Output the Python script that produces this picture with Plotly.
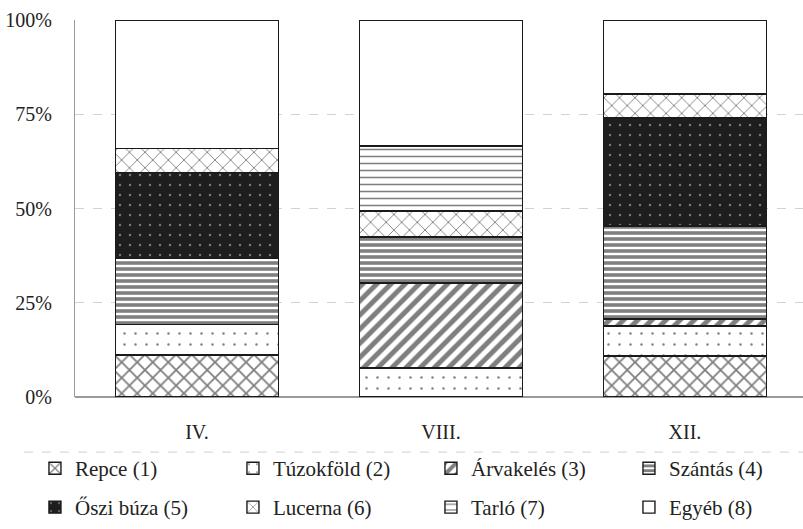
import plotly.graph_objects as go

# Months of observation
months = ["IV.", "VIII.", "XII."]

# Share of each land-use type (%), bottom to top of each stacked bar
repce = [11.1, 0.0, 10.9]
tuzokfold = [8.2, 7.7, 7.9]
arvakeles = [0.0, 22.5, 1.9]
szantas = [17.4, 12.2, 24.7]
oszi_buza = [22.8, 0.0, 28.6]
lucerna = [6.4, 6.9, 6.4]
tarlo = [0.0, 17.3, 0.0]
egyeb = [34.1, 33.4, 19.6]

series_names = ["Repce (1)", "Túzokföld (2)", "Árvakelés (3)", "Szántás (4)",
                "Őszi búza (5)", "Lucerna (6)", "Tarló (7)", "Egyéb (8)"]
series_values = [repce, tuzokfold, arvakeles, szantas,
                 oszi_buza, lucerna, tarlo, egyeb]

# Hatch style for each series
patterns = [
    dict(shape="x", size=11, solidity=0.3, fgcolor="#000", bgcolor="white"),
    dict(shape=".", size=11, solidity=0.04, fgcolor="#000", bgcolor="white"),
    dict(shape="/", size=10, solidity=0.5, fgcolor="#000", bgcolor="white"),
    dict(shape="-", size=6, solidity=0.6, fgcolor="#000", bgcolor="white"),
    dict(shape=".", size=10, solidity=0.05, fgcolor="#d0d0d0", bgcolor="#1e1e1e"),
    dict(shape="x", size=11, solidity=0.16, fgcolor="#000", bgcolor="white"),
    dict(shape="-", size=7, solidity=0.22, fgcolor="#000", bgcolor="white"),
    dict(shape="", fgcolor="#000", bgcolor="white"),
]

serif = "Liberation Serif"

fig = go.Figure()
for i, (name, vals, pat) in enumerate(zip(series_names, series_values, patterns)):
    fig.add_trace(go.Bar(
        x=months, y=vals, name=name,
        width=0.668,
        marker=dict(color="white", pattern=pat,
                    line=dict(color="#1a1a1a", width=1.4)),
        legend="legend" if i < 4 else "legend2",
    ))

legend_common = dict(
    orientation="h", xanchor="left", yanchor="middle",
    font=dict(family=serif, size=21, color="#222"),
    entrywidth=153, entrywidthmode="pixels",
    itemwidth=30, bgcolor="rgba(0,0,0,0)", traceorder="normal",
)

fig.update_layout(
    width=803, height=529,
    margin=dict(l=75, r=0, t=20, b=132, autoexpand=False),
    paper_bgcolor="white", plot_bgcolor="white",
    barmode="stack",
    showlegend=True,
    legend=dict(x=-0.055, y=-0.190, **legend_common),
    legend2=dict(x=-0.055, y=-0.293, **legend_common),
    font=dict(family=serif, size=20, color="#222"),
    xaxis=dict(range=[-0.5, 2.484], showgrid=False, showline=False,
               ticks="", tickfont=dict(family=serif, size=20, color="#222"),
               ticklabelstandoff=21),
    yaxis=dict(range=[0, 100], tickvals=[0, 25, 50, 75, 100],
               ticktext=["0%", "25%", "50%", "75%", "100%"],
               showgrid=True, gridcolor="#d2d2d2", griddash="dash", gridwidth=1,
               showline=True, linecolor="#9a9a9a", linewidth=1,
               zeroline=True, zerolinecolor="#9a9a9a", zerolinewidth=1.5,
               ticks="", ticklabelstandoff=18,
               tickfont=dict(family=serif, size=20, color="#222")),
    shapes=[dict(type="line", xref="paper", yref="paper",
                 x0=-0.07, x1=1.0, y0=-0.146, y1=-0.146,
                 line=dict(color="#dadada", width=1.2, dash="dash"))],
)

fig.write_html("out.html")
